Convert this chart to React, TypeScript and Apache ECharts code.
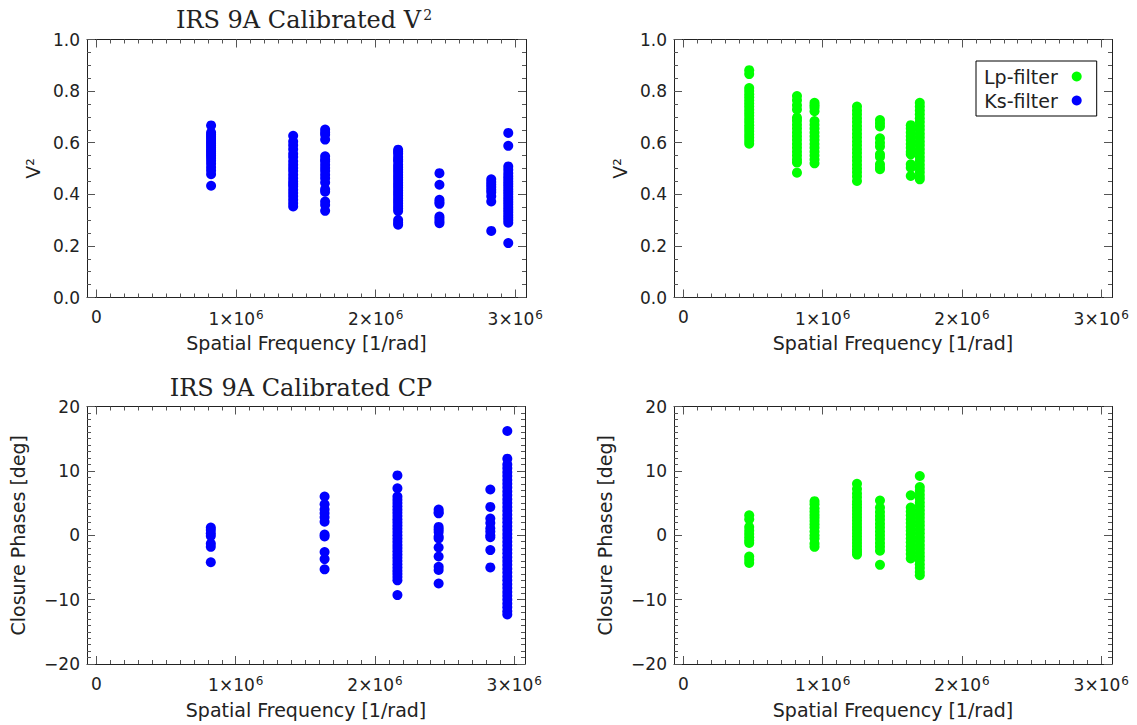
import React, { useEffect, useRef } from 'react';
import * as echarts from 'echarts';

// ---------- axis definitions ----------
const X_MIN = -68000;
const X_MAX = 3077000;
const xMajorTicks = [0, 1000000, 2000000, 3000000];
const xMinorTicks: number[] = [];
for (let i = 0; i <= 30; i++) xMinorTicks.push(i * 100000);

const v2Range = { min: 0, max: 1, interval: 0.2, minorSplit: 4 };
const cpRange = { min: -20, max: 20, interval: 10, minorSplit: 10 };

// ---------- Ks-filter V^2 (top left) ----------
const ksV2Freq = [821000, 1409000, 1638000, 2161000, 2457000, 2828000, 2950000];
const ksV2Col1 = [0.667, 0.640, 0.632, 0.625, 0.618, 0.610, 0.603, 0.596, 0.588, 0.580, 0.572, 0.565, 0.557, 0.549, 0.541, 0.530, 0.518, 0.505, 0.492, 0.478, 0.433];
const ksV2Col2 = [0.627, 0.605, 0.590, 0.575, 0.557, 0.545, 0.528, 0.515, 0.502, 0.490, 0.476, 0.462, 0.450, 0.440, 0.431, 0.418, 0.405, 0.392, 0.379, 0.365, 0.353];
const ksV2Col3 = [0.651, 0.640, 0.631, 0.612, 0.547, 0.535, 0.528, 0.515, 0.502, 0.490, 0.476, 0.462, 0.446, 0.420, 0.410, 0.372, 0.359, 0.336];
const ksV2Col4 = [0.573, 0.565, 0.557, 0.545, 0.535, 0.528, 0.515, 0.505, 0.495, 0.485, 0.475, 0.465, 0.455, 0.445, 0.435, 0.425, 0.415, 0.405, 0.395, 0.385, 0.375, 0.365, 0.355, 0.345, 0.335, 0.300, 0.290, 0.282];
const ksV2Col5 = [0.482, 0.437, 0.379, 0.370, 0.363, 0.314, 0.305, 0.296, 0.288];
const ksV2Col6 = [0.458, 0.448, 0.438, 0.428, 0.418, 0.408, 0.392, 0.372, 0.258];
const ksV2Col7 = [0.638, 0.588, 0.508, 0.495, 0.482, 0.470, 0.460, 0.450, 0.440, 0.430, 0.420, 0.410, 0.400, 0.390, 0.380, 0.370, 0.360, 0.350, 0.340, 0.330, 0.320, 0.310, 0.300, 0.290, 0.211];
const ksV2Cols = [ksV2Col1, ksV2Col2, ksV2Col3, ksV2Col4, ksV2Col5, ksV2Col6, ksV2Col7];

// ---------- Lp-filter V^2 (top right) ----------
const lpV2Freq = [472000, 815000, 941000, 1246000, 1411000, 1632000, 1697000];
const lpV2Col1 = [0.881, 0.866, 0.812, 0.800, 0.788, 0.776, 0.764, 0.752, 0.740, 0.728, 0.716, 0.704, 0.692, 0.680, 0.668, 0.656, 0.644, 0.632, 0.620, 0.608, 0.596];
const lpV2Col2 = [0.781, 0.765, 0.745, 0.729, 0.697, 0.685, 0.670, 0.655, 0.640, 0.625, 0.610, 0.595, 0.580, 0.565, 0.550, 0.535, 0.523, 0.484];
const lpV2Col3 = [0.755, 0.745, 0.735, 0.722, 0.684, 0.670, 0.655, 0.640, 0.625, 0.610, 0.595, 0.580, 0.565, 0.550, 0.535, 0.520];
const lpV2Col4 = [0.740, 0.725, 0.710, 0.695, 0.680, 0.665, 0.650, 0.635, 0.620, 0.605, 0.590, 0.575, 0.560, 0.545, 0.530, 0.515, 0.500, 0.485, 0.470, 0.452];
const lpV2Col5 = [0.688, 0.675, 0.663, 0.617, 0.600, 0.585, 0.555, 0.545, 0.516, 0.505, 0.497];
const lpV2Col6 = [0.668, 0.655, 0.640, 0.625, 0.610, 0.595, 0.580, 0.565, 0.555, 0.516, 0.503, 0.471];
const lpV2Col7 = [0.755, 0.740, 0.725, 0.710, 0.695, 0.680, 0.665, 0.650, 0.635, 0.620, 0.605, 0.590, 0.575, 0.560, 0.545, 0.530, 0.515, 0.500, 0.485, 0.470, 0.458];
const lpV2Cols = [lpV2Col1, lpV2Col2, lpV2Col3, lpV2Col4, lpV2Col5, lpV2Col6, lpV2Col7];

// ---------- Ks-filter closure phases (bottom left) ----------
const ksCpFreq = [821000, 1638000, 2161000, 2457000, 2828000, 2950000];
const ksCpCol1 = [1.2, 0.8, 0.3, -0.1, -1.3, -1.8, -4.2];
const ksCpCol2 = [6.0, 4.8, 4.0, 3.4, 2.8, 2.1, 0.1, -0.2, -2.6, -3.7, -5.3];
const ksCpCol3 = [9.3, 7.3, 6.0, 5.5, 5.0, 4.5, 4.0, 3.5, 3.0, 2.5, 2.0, 1.5, 1.0, 0.5, 0.0, -0.5, -1.0, -1.5, -2.0, -2.5, -3.0, -3.5, -4.0, -4.5, -5.0, -5.5, -6.0, -6.5, -7.0, -9.3];
const ksCpCol4 = [4.0, 3.6, 3.4, 1.3, 0.9, 0.5, -0.2, -0.5, -1.9, -3.3, -4.9, -5.4, -7.5];
const ksCpCol5 = [7.1, 4.4, 2.6, 1.9, 1.1, 0.6, 0.0, -0.3, -2.3, -5.0];
const ksCpCol6 = [16.2, 11.9, 11.0, 10.4, 9.8, 9.2, 8.6, 8.0, 7.4, 6.8, 6.2, 5.6, 5.0, 4.4, 3.8, 3.2, 2.6, 2.0, 1.4, 0.8, 0.2, -0.4, -1.0, -1.6, -2.2, -2.8, -3.4, -4.0, -4.6, -5.2, -5.8, -6.4, -7.0, -7.6, -8.2, -8.8, -9.4, -10.0, -10.6, -11.2, -11.8, -12.3];
const ksCpCols = [ksCpCol1, ksCpCol2, ksCpCol3, ksCpCol4, ksCpCol5, ksCpCol6];

// ---------- Lp-filter closure phases (bottom right) ----------
const lpCpFreq = [472000, 941000, 1246000, 1411000, 1632000, 1697000];
const lpCpCol1 = [3.1, 2.5, 1.3, 0.7, 0.2, -0.3, -0.8, -1.2, -3.3, -3.8, -4.3];
const lpCpCol2 = [5.3, 4.8, 4.2, 3.7, 3.2, 2.7, 2.2, 1.7, 1.2, 0.6, 0.0, -0.5, -1.3, -1.8];
const lpCpCol3 = [8.0, 7.2, 6.5, 5.9, 5.3, 4.8, 4.3, 3.8, 3.3, 2.8, 2.3, 1.8, 1.3, 0.8, 0.3, -0.2, -0.7, -1.2, -1.7, -2.2, -2.6, -3.0];
const lpCpCol4 = [5.4, 4.3, 3.6, 3.0, 2.4, 1.8, 1.2, 0.6, 0.0, -0.6, -1.2, -1.8, -2.4, -4.6];
const lpCpCol5 = [6.2, 4.3, 3.7, 3.1, 2.5, 1.9, 1.3, 0.7, 0.1, -0.5, -1.1, -1.7, -2.3, -2.9, -3.6];
const lpCpCol6 = [9.2, 7.5, 6.9, 6.3, 5.7, 5.1, 4.5, 3.9, 3.3, 2.7, 2.1, 1.5, 0.9, 0.3, -0.3, -0.9, -1.5, -2.1, -2.7, -3.3, -3.9, -4.5, -5.1, -5.7, -6.2];
const lpCpCols = [lpCpCol1, lpCpCol2, lpCpCol3, lpCpCol4, lpCpCol5, lpCpCol6];

const titles = ['IRS 9A Calibrated V{sup|2}', 'IRS 9A Calibrated CP'];
const xName = 'Spatial Frequency [1/rad]';
const legendNames = ['Lp-filter', 'Ks-filter'];

const BLUE = '#0000ff';
const GREEN = '#00ff00';
const INK = '#222222';
const TICK = '#555555';
const SANS = 'DejaVu Sans';
const SERIF = 'DejaVu Serif';

const toPoints = (freqs: number[], cols: number[][]) => {
  const pts: number[][] = [];
  cols.forEach((col, i) => col.forEach((v) => pts.push([freqs[i], v])));
  return pts;
};

const gridsPos = [
  { left: 87, top: 39.5, width: 439, height: 258 },
  { left: 674, top: 39.5, width: 438, height: 258 },
  { left: 87, top: 406.5, width: 438, height: 257.5 },
  { left: 674, top: 406.5, width: 438, height: 257.5 },
];

function buildXAxes(g: number) {
  const base = {
    gridIndex: g,
    type: 'value',
    min: X_MIN,
    max: X_MAX,
    splitLine: { show: false },
    axisLine: { show: false, onZero: false },
    axisLabel: { show: false },
  };
  const line = { show: true, onZero: false, lineStyle: { color: INK, width: 1 } };
  return [
    {
      ...base,
      position: 'bottom',
      axisLine: line,
      axisTick: { show: true, inside: true, length: 8, customValues: xMajorTicks, lineStyle: { color: TICK } },
      axisLabel: {
        show: true,
        customValues: xMajorTicks,
        margin: 11,
        color: INK,
        fontFamily: SANS,
        fontSize: 17,
        formatter: (v: number) => (v === 0 ? '0' : `${Math.round(v / 1e6)}×10{sup|6}`),
        rich: { sup: { fontSize: 12, fontFamily: SANS, color: INK, verticalAlign: 'top', padding: [0, 0, 8, 1] } },
      },
      name: xName,
      nameLocation: 'middle',
      nameGap: 36,
      nameTextStyle: { fontFamily: SANS, fontSize: 19, color: INK, verticalAlign: 'top' },
    },
    {
      ...base,
      position: 'bottom',
      axisTick: { show: true, inside: true, length: 4, customValues: xMinorTicks, lineStyle: { color: TICK } },
    },
    {
      ...base,
      position: 'top',
      axisLine: line,
      axisTick: { show: true, inside: true, length: 8, customValues: xMajorTicks, lineStyle: { color: TICK } },
    },
    {
      ...base,
      position: 'top',
      axisTick: { show: true, inside: true, length: 4, customValues: xMinorTicks, lineStyle: { color: TICK } },
    },
  ];
}

function buildYAxes(g: number, r: typeof v2Range, name: string, nameGap: number, decimals: number) {
  const common = {
    gridIndex: g,
    type: 'value',
    min: r.min,
    max: r.max,
    interval: r.interval,
    splitLine: { show: false },
    minorSplitLine: { show: false },
    axisLine: { show: true, onZero: false, lineStyle: { color: INK, width: 1 } },
    axisTick: { show: true, inside: true, length: 8, lineStyle: { color: TICK } },
    minorTick: { show: true, splitNumber: r.minorSplit, length: 4, lineStyle: { color: TICK } },
  };
  return [
    {
      ...common,
      position: 'left',
      axisLabel: {
        show: true,
        margin: 7,
        color: INK,
        fontFamily: SANS,
        fontSize: 17,
        formatter: (v: number) => (decimals > 0 ? v.toFixed(decimals) : String(Math.round(v))).replace('-', '−'),
      },
      name,
      nameLocation: 'middle',
      nameGap,
      nameTextStyle: { fontFamily: SANS, fontSize: 19, color: INK },
    },
    {
      ...common,
      position: 'right',
      axisLabel: { show: false },
    },
  ];
}

export default function App() {
  const ref = useRef<HTMLDivElement>(null);
  useEffect(() => {
    if (!ref.current) return;
    const chart = echarts.init(ref.current, undefined, { renderer: 'svg' });
    const xAxis = [0, 1, 2, 3].flatMap((g) => buildXAxes(g));
    const yAxis = [
      ...buildYAxes(0, v2Range, 'V²', 45, 1),
      ...buildYAxes(1, v2Range, 'V²', 45, 1),
      ...buildYAxes(2, cpRange, 'Closure Phases [deg]', 60, 0),
      ...buildYAxes(3, cpRange, 'Closure Phases [deg]', 60, 0),
    ];
    const mk = (name: string, g: number, color: string, data: number[][]) => ({
      type: 'scatter',
      name,
      xAxisIndex: g * 4,
      yAxisIndex: g * 2,
      symbol: 'circle',
      symbolSize: 10,
      itemStyle: { color, opacity: 1 },
      data,
      silent: true,
    });
    const titleStyle = (text: string) => ({
      text,
      align: 'center',
      verticalAlign: 'middle',
      fontFamily: SERIF,
      fontSize: 24,
      fill: INK,
      rich: { sup: { fontFamily: SERIF, fontSize: 14, fill: INK, verticalAlign: 'top', padding: [0, 0, 11, 2] } },
    });
    chart.setOption({
      animation: false,
      backgroundColor: '#ffffff',
      textStyle: { fontFamily: SANS },
      grid: gridsPos.map((p) => ({ ...p, containLabel: false, outerBoundsMode: 'none' })),
      xAxis,
      yAxis,
      legend: {
        data: legendNames,
        orient: 'vertical',
        left: 976,
        top: 61,
        align: 'right',
        icon: 'circle',
        itemWidth: 28,
        itemHeight: 10,
        itemGap: 5,
        padding: [6, 15, 6, 8],
        borderColor: '#000',
        borderWidth: 1,
        selectedMode: false,
        textStyle: { fontFamily: SANS, fontSize: 19, color: INK },
      },
      graphic: [
        { type: 'text', x: 304, y: 20, style: titleStyle(titles[0]) },
        { type: 'text', x: 301, y: 388, style: titleStyle(titles[1]) },
      ],
      series: [
        mk('Ks-filter', 0, BLUE, toPoints(ksV2Freq, ksV2Cols)),
        mk('Lp-filter', 1, GREEN, toPoints(lpV2Freq, lpV2Cols)),
        mk('Ks-filter', 2, BLUE, toPoints(ksCpFreq, ksCpCols)),
        mk('Lp-filter', 3, GREEN, toPoints(lpCpFreq, lpCpCols)),
      ],
    });
    return () => chart.dispose();
  }, []);
  return <div ref={ref} style={{ position: 'absolute', left: 0, top: 0, width: 1137, height: 725 }} />;
}
